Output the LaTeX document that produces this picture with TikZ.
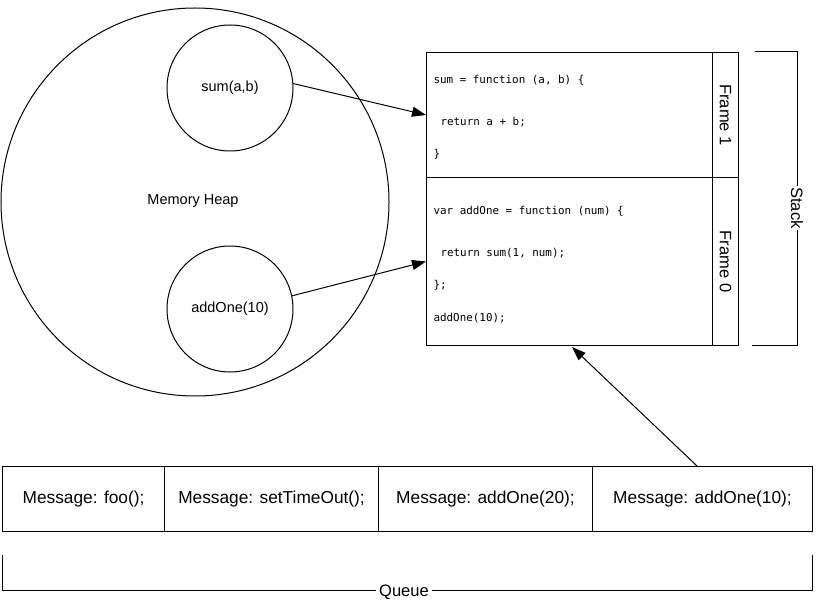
\documentclass[tikz,border=0pt]{standalone}
\usepackage{fontspec}
\setmainfont{Liberation Sans}
\setmonofont{DejaVu Sans Mono}
\usetikzlibrary{arrows.meta}

\begin{document}
\begin{tikzpicture}[x=1pt,y=-1pt,line width=1pt,
  blob/.style={draw,circle,minimum size=126pt,inner sep=0pt,font=\fontsize{14.5}{16}\selectfont},
  codebox/.style={draw,rectangle,minimum width=286pt,anchor=north west,inner sep=0pt},
  tagbox/.style={draw,rectangle,minimum width=26pt,anchor=north west,inner sep=0pt},
  tag/.style={rotate=-90,font=\fontsize{16.5}{18}\selectfont},
  code/.style={anchor=west,inner sep=0pt,font=\ttfamily\fontsize{10.9}{12}\selectfont},
  msg/.style={draw,rectangle,minimum height=65pt,anchor=north west,inner sep=0pt,font=\fontsize{17.3}{19}\selectfont},
  arr/.style={-{Triangle[length=14pt,width=10pt]}}]
\useasboundingbox (0,0) rectangle (826,612);

% heap
\node[draw,circle,minimum size=388pt,inner sep=0pt] (heap) at (195,202) {};
\node[font=\fontsize{14.5}{16}\selectfont] (heaplabel) at (193,201) {Memory Heap};
\node[blob] (sum) at (230,88) {sum(a,b)};
\node[blob] (add) at (230,309) {addOne(10)};

% stack frames
\node[codebox,minimum height=125pt] (frame1) at (426,52) {};
\node[tagbox,minimum height=125pt] (tag1) at (712,52) {};
\node[codebox,minimum height=168pt] (frame0) at (426,177) {};
\node[tagbox,minimum height=168pt] (tag0) at (712,177) {};
\node[tag] at (tag1.center) {Frame 1};
\node[tag] at (tag0.center) {Frame 0};

\node[code] (c1) at (433,80) {sum = function (a, b) \{};
\node[code] (c2) at (440,122) {return a + b;};
\node[code] (c3) at (433,154) {\}};
\node[code] (c4) at (433,211) {var addOne = function (num) \{};
\node[code] (c5) at (440,253) {return sum(1, num);};
\node[code] (c6) at (433,285) {\};};
\node[code] (c7) at (433,318) {addOne(10);};

% stack bracket
\draw (755,52) -- (797,52) -- (797,345) -- (752,345);
\node[tag,fill=white,inner sep=1pt] (stack) at (797,208) {Stack};

% queue
\node[msg,minimum width=162pt] (m1) at (2,466) {Message: foo();};
\node[msg,minimum width=214pt] (m2) at (164,466) {Message: setTimeOut();};
\node[msg,minimum width=214pt] (m3) at (378,466) {Message: addOne(20);};
\node[msg,minimum width=220pt] (m4) at (592,466) {Message: addOne(10);};

\draw (2,555) -- (2,590) -- (812,590) -- (812,555);
\node[fill=white,inner sep=3pt,font=\fontsize{16.5}{18}\selectfont] (queue) at (404,592) {Queue};

% arrows
\coordinate (ret) at (572,347);
\draw[arr] (sum.4) -- (frame1.west);
\draw[arr] (add.12) -- (frame0.west);
\draw[arr] (m4.north -| 697,0) -- (ret);
\end{tikzpicture}
\end{document}
